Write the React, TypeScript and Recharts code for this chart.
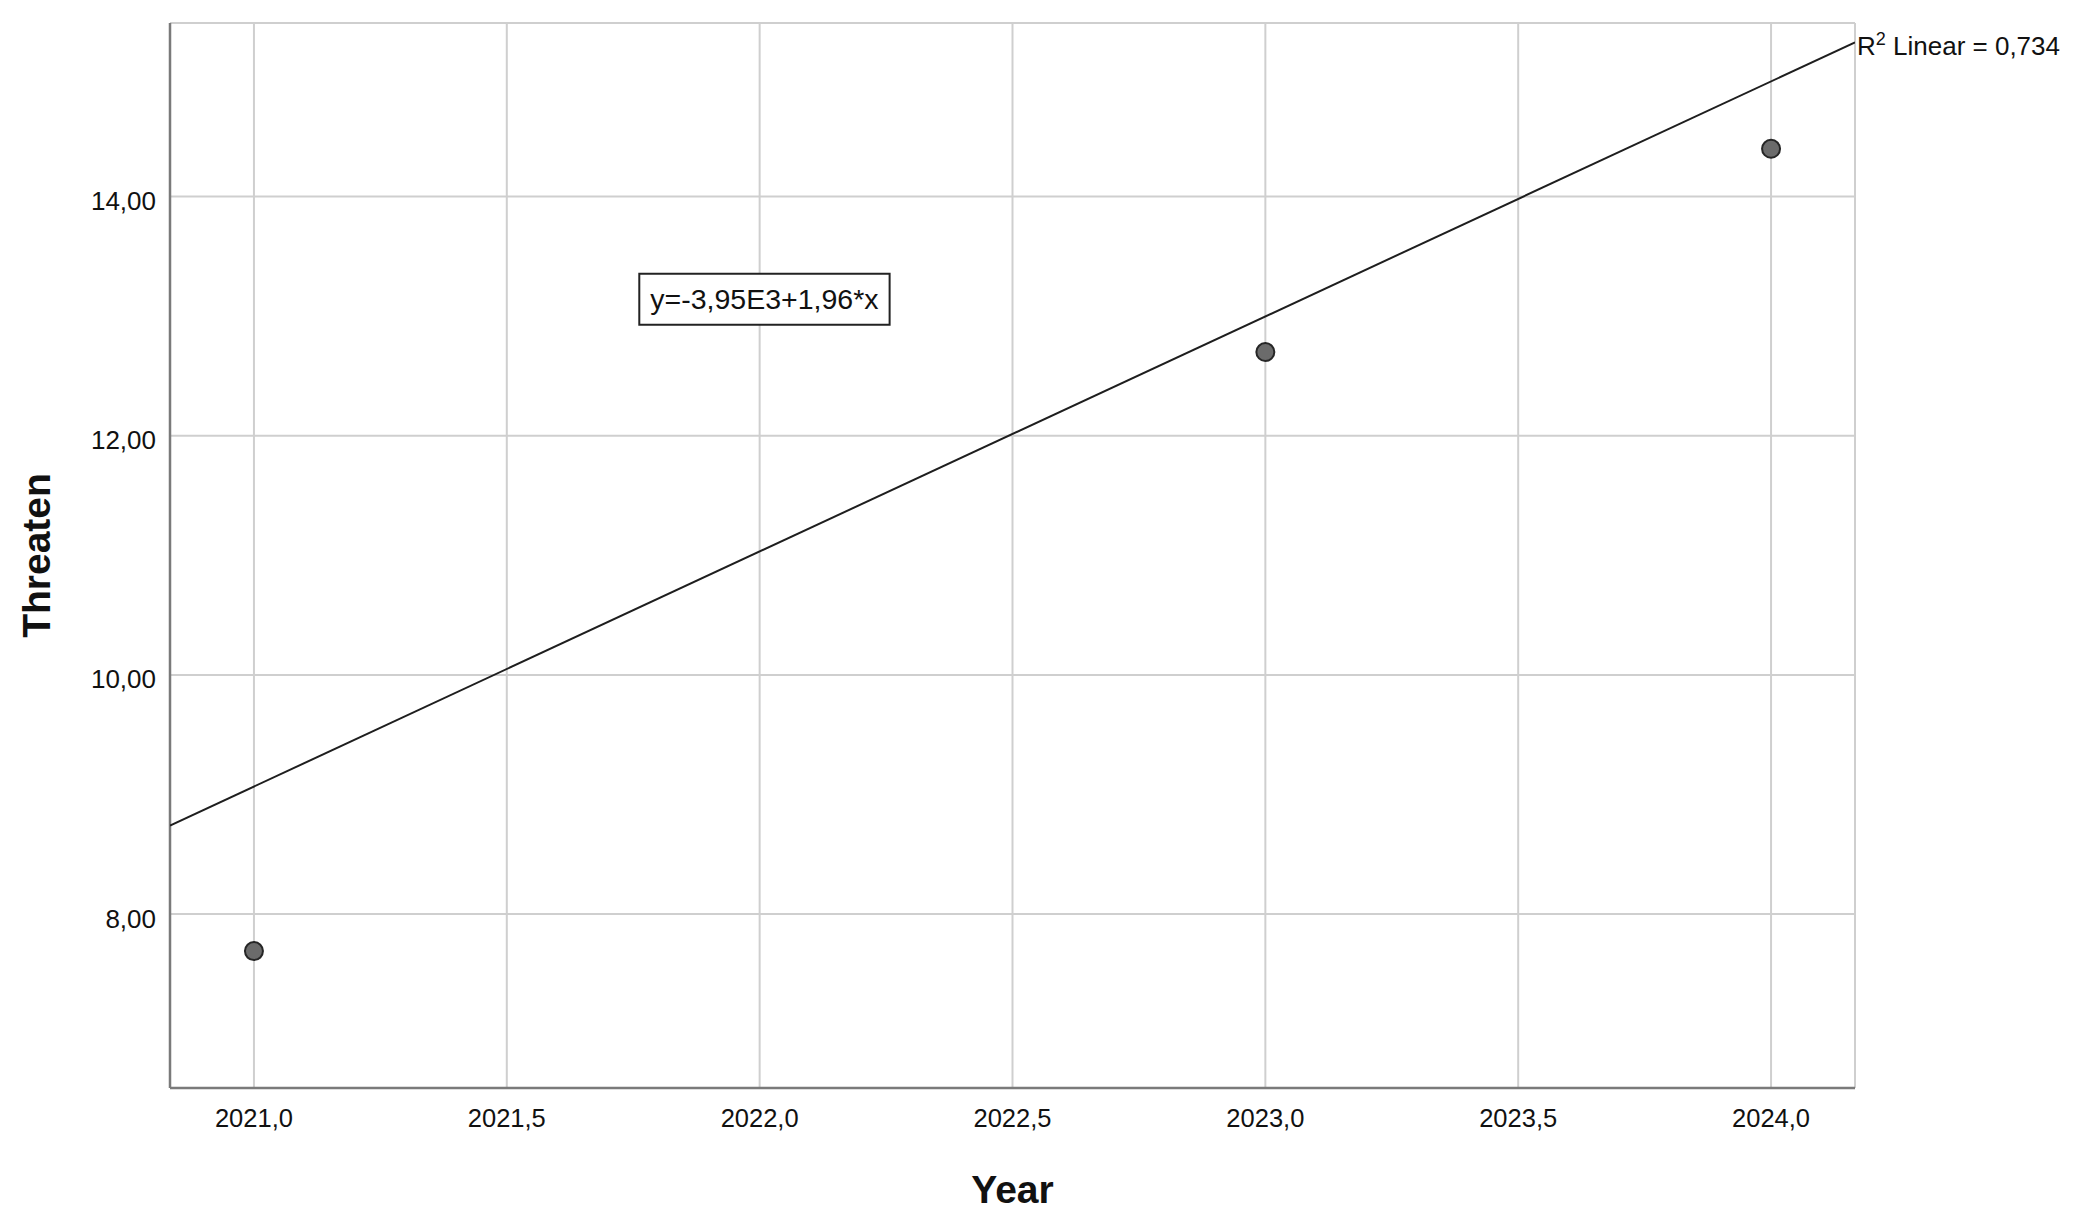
import React from "react";
import {
  ScatterChart,
  Scatter,
  XAxis,
  YAxis,
  CartesianGrid,
  ReferenceArea,
  ReferenceDot,
  Label,
} from "recharts";

// observed points
const years = [2021, 2023, 2024];
const threaten = [7.69, 12.7, 14.4];

// fit line end points
const fitYears = [2020.834, 2024.166];
const fitValues = [8.74, 15.29];

const xTicks = [2021, 2021.5, 2022, 2022.5, 2023, 2023.5, 2024];
const yTicks = [8, 10, 12, 14];

const equationText = "y=-3,95E3+1,96*x";
const r2Value = "0,734";

const FONT = "'Liberation Sans', Arial, sans-serif";

const points = years.map((x, i) => ({ x, y: threaten[i] }));
const fitLine = fitYears.map((x, i) => ({ x, y: fitValues[i] }));

const comma = (v: number, d: number) => v.toFixed(d).replace(".", ",");

function XTick({ x, y, payload }: any) {
  return (
    <text x={x} y={y + 39} textAnchor="middle" fontFamily={FONT} fontSize={25.5} fill="#111">
      {comma(payload.value, 1)}
    </text>
  );
}

function YTick({ x, y, payload }: any) {
  return (
    <text x={x - 14} y={y + 13.5} textAnchor="end" fontFamily={FONT} fontSize={26} fill="#111">
      {comma(payload.value, 2)}
    </text>
  );
}

function Dot({ cx, cy }: any) {
  return <circle cx={cx} cy={cy} r={9} fill="#6b6b6b" stroke="#262626" strokeWidth={2} />;
}

function R2Label({ viewBox }: any) {
  const x = viewBox.x + 2;
  const y = viewBox.y + 12.5;
  return (
    <text x={x} y={y} fontFamily={FONT} fontSize={26} fill="#111">
      R
      <tspan fontSize={18} dy={-10}>2</tspan>
      <tspan dy={10}>{` Linear = ${r2Value}`}</tspan>
    </text>
  );
}

export default function App() {
  return (
    <div style={{ position: "absolute", left: 0, top: 0, background: "#fff" }}>
      <ScatterChart
        width={2083}
        height={1224}
        margin={{ top: 23, right: 228, bottom: 0, left: 0 }}
      >
        <CartesianGrid stroke="#cfcfcf" strokeWidth={2} />
        <XAxis
          type="number"
          dataKey="x"
          domain={[2020.834, 2024.166]}
          ticks={xTicks}
          allowDataOverflow
          height={136}
          tickSize={0}
          tickMargin={0}
          tickLine={false}
          tick={<XTick />}
          axisLine={{ stroke: "#7a7a7a", strokeWidth: 2.5 }}
        >
          <Label
            content={({ viewBox }: any) => (
              <text
                x={viewBox.x + viewBox.width / 2}
                y={viewBox.y + 115}
                textAnchor="middle"
                fontFamily={FONT}
                fontSize={39}
                fontWeight="bold"
                fill="#111"
              >
                Year
              </text>
            )}
          />
        </XAxis>
        <YAxis
          type="number"
          dataKey="y"
          domain={[6.545, 15.452]}
          ticks={yTicks}
          allowDataOverflow
          width={170}
          tickSize={0}
          tickMargin={0}
          tickLine={false}
          tick={<YTick />}
          axisLine={{ stroke: "#7a7a7a", strokeWidth: 2.5 }}
        >
          <Label
            content={({ viewBox }: any) => {
              const cy = viewBox.y + viewBox.height / 2;
              return (
                <text
                  x={50}
                  y={cy}
                  textAnchor="middle"
                  transform={`rotate(-90, 50, ${cy})`}
                  fontFamily={FONT}
                  fontSize={39}
                  fontWeight="bold"
                  fill="#111"
                >
                  Threaten
                </text>
              );
            }}
          />
        </YAxis>
        <Scatter
          data={fitLine}
          line={{ stroke: "#1e1e1e", strokeWidth: 2 }}
          shape={() => <g />}
          isAnimationActive={false}
        />
        <Scatter data={points} shape={<Dot />} isAnimationActive={false} />
        <ReferenceArea
          x1={2021.762}
          x2={2022.257}
          y1={12.928}
          y2={13.354}
          fill="#fff"
          fillOpacity={1}
          stroke="#222"
          strokeWidth={2}
          ifOverflow="visible"
          label={(props: any) => {
            const vb = props.viewBox;
            return (
              <text
                x={vb.x + vb.width / 2}
                y={vb.y + vb.height / 2 + 10}
                textAnchor="middle"
                fontFamily={FONT}
                fontSize={28.5}
                fill="#111"
              >
                {equationText}
              </text>
            );
          }}
        />
        <ReferenceDot
          x={fitYears[1]}
          y={fitValues[1]}
          r={0}
          fill="none"
          stroke="none"
          ifOverflow="visible"
          label={<R2Label />}
        />
      </ScatterChart>
    </div>
  );
}
